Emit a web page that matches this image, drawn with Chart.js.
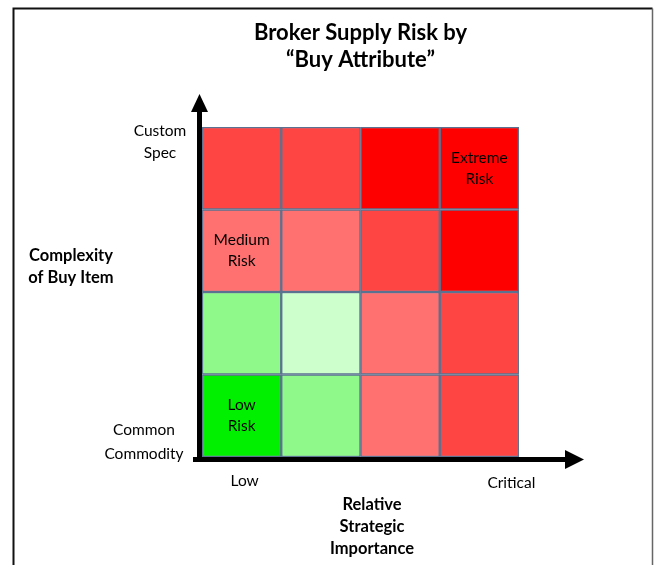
<!DOCTYPE html>
<html>
<head>
<meta charset="utf-8">
<script src="https://cdn.jsdelivr.net/npm/chart.js@4.4.0/dist/chart.umd.min.js"></script>
<style>
body { margin: 0; background: #fff; }
</style>
</head>
<body>
<canvas id="risk_matrix" width="654" height="565"></canvas>
<script>
// columns, left to right (only the ends are labelled)
var importance = ['Low', '', '', 'Critical'];
// rows, bottom to top
var complexity = ['Common Commodity', '', '', 'Custom Spec'];
// every cell is one unit tall
var cellHeight = [1, 1, 1, 1];
// risk level per cell, one list per row, bottom row first
var riskRow1 = [0, 1, 3, 4];
var riskRow2 = [1, 2, 3, 4];
var riskRow3 = [3, 3, 4, 5];
var riskRow4 = [4, 4, 5, 5];
var riskColors = ['#00f000', '#8ffa8a', '#ccffcc', '#ff7070', '#ff4444', '#ff0000'];
// notes written inside cells: [column, row, lines]
var cellNotes = [
    [0, 0, ['Low', 'Risk']],
    [0, 2, ['Medium', 'Risk']],
    [3, 3, ['Extreme', 'Risk']]
];
var yAxisTitle = ['Complexity', 'of Buy Item'];
var xAxisTitle = ['Relative', 'Strategic', 'Importance'];

var rows = [riskRow1, riskRow2, riskRow3, riskRow4];
var datasets = rows.map(function (levels, i) {
    return {
        label: 'row ' + (i + 1),
        data: cellHeight,
        backgroundColor: levels.map(function (l) { return riskColors[l]; }),
        borderColor: '#5b7290',
        borderWidth: 1.5,
        borderSkipped: false,
        barPercentage: 1,
        categoryPercentage: 1
    };
});

function lines(ctx, list, x, y, step) {
    list.forEach(function (t, i) { ctx.fillText(t, x, y + i * step); });
}

var matrixDecor = {
    id: 'matrixDecor',
    beforeDraw: function (chart) {
        var ctx = chart.ctx;
        ctx.save();
        ctx.fillStyle = '#fff';
        ctx.fillRect(0, 0, chart.width, chart.height);
        ctx.strokeStyle = '#111';
        ctx.lineWidth = 2;
        ctx.beginPath();
        ctx.moveTo(13.5, chart.height + 5);
        ctx.lineTo(13.5, 8.5);
        ctx.lineTo(652.5, 8.5);
        ctx.stroke();
        ctx.strokeStyle = '#666';
        ctx.lineWidth = 1.5;
        ctx.beginPath();
        ctx.moveTo(652.5, 8.5);
        ctx.lineTo(652.5, chart.height + 5);
        ctx.stroke();
        ctx.restore();
    },
    afterDatasetsDraw: function (chart) {
        var ctx = chart.ctx;
        var ca = chart.chartArea;
        var xs = chart.scales.x, ys = chart.scales.y;
        ctx.save();
        // arrows
        ctx.fillStyle = '#000';
        ctx.fillRect(ca.left - 5, ca.top - 17, 5, ca.bottom - ca.top + 22);
        ctx.beginPath();
        ctx.moveTo(ca.left - 11, ca.top - 15);
        ctx.lineTo(ca.left + 6, ca.top - 15);
        ctx.lineTo(ca.left - 2.5, ca.top - 33);
        ctx.closePath();
        ctx.fill();
        ctx.fillRect(ca.left - 9, ca.bottom, ca.right - ca.left + 56, 5);
        ctx.beginPath();
        ctx.moveTo(ca.right + 46, ca.bottom - 7);
        ctx.lineTo(ca.right + 46, ca.bottom + 12);
        ctx.lineTo(ca.right + 65, ca.bottom + 2.5);
        ctx.closePath();
        ctx.fill();

        ctx.textAlign = 'center';
        ctx.textBaseline = 'middle';
        ctx.fillStyle = '#000';
        // cell notes
        ctx.font = '15.5px Lato';
        cellNotes.forEach(function (n) {
            var cx = xs.getPixelForValue(n[0]);
            var cy = ys.getPixelForValue(n[1] + 0.5);
            lines(ctx, n[2], cx, cy - 10.5, 21);
        });
        // tick labels
        ctx.font = '15.5px Lato';
        lines(ctx, complexity[3].split(' '), ca.left - 42, ys.getPixelForValue(4) + 4, 22);
        lines(ctx, complexity[0].split(' '), ca.left - 58, ys.getPixelForValue(0) - 27, 24);
        ctx.fillText(importance[0], xs.getPixelForValue(0) + 3, ca.bottom + 24);
        ctx.fillText(importance[3], xs.getPixelForValue(3) + 32, ca.bottom + 26);
        // axis titles
        ctx.font = 'bold 16.5px Lato';
        lines(ctx, yAxisTitle, 71, 256, 22);
        lines(ctx, xAxisTitle, 372, ca.bottom + 48, 22);
        ctx.restore();
    }
};

new Chart(document.getElementById('risk_matrix'), {
    type: 'bar',
    data: { labels: importance, datasets: datasets },
    plugins: [matrixDecor],
    options: {
        responsive: false,
        animation: false,
        events: [],
        layout: { padding: { left: 202, right: 135, top: 0, bottom: 108 } },
        scales: {
            x: { display: false, stacked: true },
            y: { display: false, stacked: true, min: 0, max: 4 }
        },
        plugins: {
            legend: { display: false },
            tooltip: { enabled: false },
            title: {
                display: true,
                text: ['Broker Supply Risk by', '\u201CBuy Attribute\u201D'],
                color: '#000',
                font: { family: 'Lato', size: 22, weight: 'bold', lineHeight: 1.227 },
                padding: { top: 19, bottom: 54 }
            }
        }
    }
});
</script>
</body>
</html>
